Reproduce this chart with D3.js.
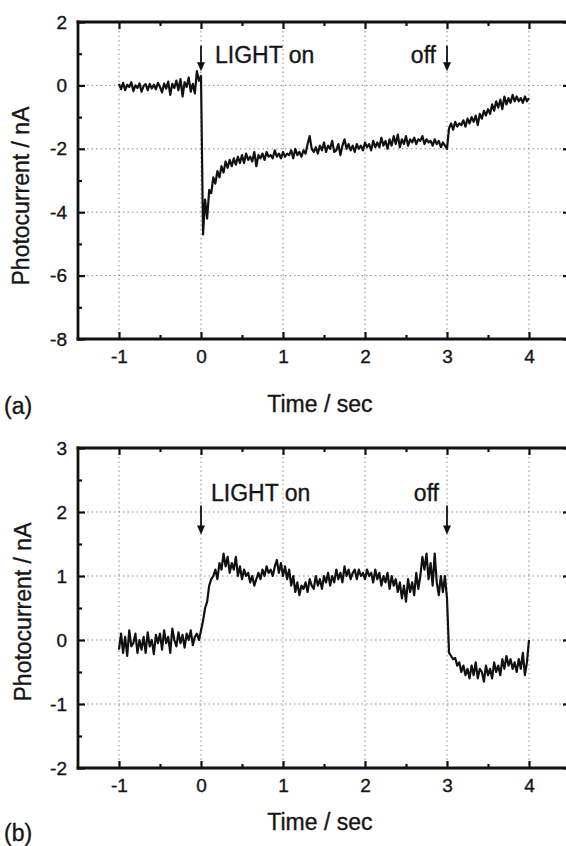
<!DOCTYPE html>
<html>
<head>
<meta charset="utf-8">
<script src="https://cdn.jsdelivr.net/npm/d3@7"></script>
<style>
  body { margin: 0; background: #fff; }
  text { font-family: "Liberation Sans", Arial, sans-serif; fill: #151515; }
</style>
</head>
<body>
<svg id="chart" width="566" height="846"></svg>
<script>
// sampling: t = -1 .. 4 sec, every 0.025 s
const tStart = -1, tStep = 0.025;

// panel (a) photocurrent, nA
const currentA = [
  0.05, -0.12, 0.08, -0.15, 0.02, -0.05, 0.10, -0.18, 0.00, -0.08,
  0.06, -0.20, -0.02, 0.04, -0.15, 0.05, -0.10, 0.02, -0.12, 0.08,
  -0.05, -0.22, 0.06, -0.10, 0.12, -0.30, 0.05, -0.08, 0.15, -0.15,
  0.20, -0.35, 0.10, -0.05, 0.25, -0.20, 0.05, -0.25, 0.45, 0.15,
  0.30,
  -4.7, -3.6, -4.2, -3.3, -3.4, -2.9, -3.1, -2.7, -2.9, -2.55,
  -2.75, -2.4, -2.6, -2.35, -2.55, -2.3, -2.5, -2.25, -2.45, -2.2,
  -2.45, -2.15, -2.35, -2.25, -2.4, -2.1, -2.55, -2.2, -2.3, -2.15,
  -2.35, -2.1, -2.25, -2.2, -2.3, -2.05, -2.25, -2.15, -2.3, -2.1,
  -2.25, -2.15, -2.2, -2.05, -2.3, -2.0, -2.2, -2.1, -2.25, -2.05,
  -2.15, -1.85, -1.6, -2.0, -2.1, -1.95, -2.15, -1.9, -2.05, -1.8,
  -2.1, -1.9, -2.0, -1.75, -2.1, -2.05, -1.85, -2.2, -1.9, -1.7,
  -2.0, -1.85, -2.05, -1.9, -2.1, -1.85, -2.0, -1.9, -2.05, -1.8,
  -1.95, -1.85, -2.05, -1.75, -1.95, -1.8, -1.95, -1.65, -1.9, -1.75,
  -2.0, -1.7, -1.9, -1.6, -1.85, -1.55, -1.95, -1.7, -1.85, -1.6,
  -1.9, -1.7, -1.8, -1.65, -1.85, -1.7, -1.75, -1.6, -1.85, -1.7,
  -1.8, -1.75, -1.9, -1.7, -1.85, -1.75, -1.95, -1.8, -1.9, -2.0,
  -1.35, -1.2, -1.4, -1.15, -1.3, -1.2, -1.25, -1.1, -1.3, -1.05,
  -1.2, -1.0, -1.15, -0.95, -1.25, -0.9, -1.05, -0.8, -0.95, -0.75,
  -0.9, -0.6, -0.8, -0.5, -0.7, -0.45, -0.75, -0.35, -0.6, -0.4,
  -0.55, -0.3, -0.5, -0.35, -0.5, -0.4, -0.55, -0.35, -0.5, -0.4
];

// panel (b) photocurrent, nA
const currentB = [
  -0.15, 0.1, -0.2, 0.05, -0.25, 0.15, -0.1, -0.05, 0.1, -0.2,
  0.0, -0.15, 0.05, -0.2, 0.12, -0.1, 0.0, -0.22, 0.08, -0.05,
  0.1, -0.15, 0.15, -0.05, 0.05, -0.2, 0.18, 0.0, -0.1, 0.12,
  -0.05, 0.08, -0.12, 0.1, 0.0, 0.15, -0.08, 0.05, 0.1, 0.0,
  0.15,
  0.3, 0.5, 0.6, 0.85, 0.95, 1.0, 1.1, 0.95, 1.2, 1.1,
  1.35, 1.15, 1.3, 1.05, 1.2, 1.1, 1.3, 1.0, 1.15, 0.95,
  1.1, 1.0, 1.05, 0.9, 1.0, 0.85, 0.95, 1.05, 0.95, 1.1,
  1.0, 1.15, 1.05, 1.1, 1.0, 1.15, 1.25, 1.05, 1.2, 1.0,
  1.15, 0.95, 1.1, 0.85, 1.0, 0.75, 0.9, 0.7, 0.85, 0.8,
  0.9, 0.75, 0.95, 0.85, 0.8, 1.0, 0.85, 0.95, 0.8, 1.0,
  0.9, 1.05, 0.85, 1.0, 0.9, 1.1, 0.95, 1.05, 0.9, 1.15,
  1.0, 1.1, 0.95, 1.05, 1.1, 0.95, 1.1, 1.0, 1.05, 0.95,
  1.1, 1.0, 1.05, 0.9, 1.1, 0.95, 1.05, 0.85, 1.0, 0.9,
  1.05, 0.8, 1.0, 0.85, 0.95, 0.75, 0.9, 0.65, 0.85, 0.6,
  0.95, 0.75, 0.9, 0.7, 1.05, 0.8, 1.0, 1.3, 1.1, 1.35,
  0.95, 1.2, 0.85, 1.35, 0.9, 0.7, 1.0, 0.75, 1.0, 0.65,
  -0.2, -0.25, -0.3, -0.28, -0.4, -0.35, -0.5, -0.4, -0.55, -0.45,
  -0.6, -0.4, -0.55, -0.35, -0.6, -0.45, -0.5, -0.65, -0.4, -0.55,
  -0.45, -0.6, -0.35, -0.5, -0.4, -0.55, -0.3, -0.45, -0.25, -0.4,
  -0.3, -0.45, -0.35, -0.5, -0.3, -0.45, -0.2, -0.55, -0.35, 0.0
];

const xDomain = [-1.5, 4.5];
const xTicks = [-1, 0, 1, 2, 3, 4];
const xMinor = [-0.5, 0.5, 1.5, 2.5, 3.5];

const yDomainA = [-8, 2];
const yTicksA = [2, 0, -2, -4, -6, -8];
const yMinorA = [1, -1, -3, -5, -7];

const yDomainB = [-2, 3];
const yTicksB = [3, 2, 1, 0, -1, -2];
const yMinorB = [2.5, 1.5, 0.5, -0.5, -1.5];

const marksA = [{ t: 0, label: "LIGHT on", side: "right" }, { t: 3, label: "off", side: "left" }];
const marksB = [{ t: 0, label: "LIGHT on", side: "above" }, { t: 3, label: "off", side: "aboveLeft" }];

const svg = d3.select("#chart");
const ink = "#111";

function panel(opt) {
  const x = d3.scaleLinear().domain(xDomain).range([opt.left, opt.right]);
  const y = d3.scaleLinear().domain(opt.yDomain).range([opt.bottom, opt.top]);
  const g = svg.append("g");

  // dotted grid
  g.selectAll("line.gx").data(xTicks).join("line").attr("class", "gx")
    .attr("x1", d => x(d)).attr("x2", d => x(d))
    .attr("y1", opt.top).attr("y2", opt.bottom)
    .attr("stroke", "#8a8a8a").attr("stroke-width", 1).attr("stroke-dasharray", "1.5,3");
  g.selectAll("line.gy").data(opt.yTicks).join("line").attr("class", "gy")
    .attr("x1", opt.left).attr("x2", opt.right)
    .attr("y1", d => y(d)).attr("y2", d => y(d))
    .attr("stroke", "#8a8a8a").attr("stroke-width", 1).attr("stroke-dasharray", "1.5,3");

  // axes, ticks pointing inward
  const ax = (gen, tr, vals, size, labels) => {
    const a = g.append("g").attr("transform", tr)
      .call(gen.tickValues(vals).tickSize(size).tickPadding(labels ? 11 : 0)
        .tickFormat(labels ? d => (d < 0 ? "-" + Math.abs(d) : d) : ""));
    a.select(".domain").remove();
    a.selectAll(".tick line").style("stroke", ink).style("stroke-width", "2.2px");
    a.selectAll(".tick text").style("font-size", "19px")
      .style("font-family", "'Liberation Sans', Arial, sans-serif")
      .style("fill", "#151515").style("stroke", "#151515").style("stroke-width", "0.35px");
    return a;
  };
  ax(d3.axisBottom(x), `translate(0,${opt.bottom})`, xTicks, -7, true);
  ax(d3.axisBottom(x), `translate(0,${opt.bottom})`, xMinor, -4, false);
  ax(d3.axisTop(x), `translate(0,${opt.top})`, xTicks, -7, false);
  ax(d3.axisTop(x), `translate(0,${opt.top})`, xMinor, -4, false);
  ax(d3.axisLeft(y), `translate(${opt.left},0)`, opt.yTicks, -7, true);
  ax(d3.axisLeft(y), `translate(${opt.left},0)`, opt.yMinor, -4, false);
  ax(d3.axisRight(y), `translate(${opt.right},0)`, opt.yTicks, -7, false);
  ax(d3.axisRight(y), `translate(${opt.right},0)`, opt.yMinor, -4, false);

  // frame
  const edges = [
    [opt.left, opt.top, opt.right, opt.top],
    [opt.left, opt.bottom, opt.right, opt.bottom],
    [opt.left, opt.top, opt.left, opt.bottom],
    [opt.right, opt.top, opt.right, opt.bottom]
  ];
  g.selectAll("line.frame").data(edges).join("line").attr("class", "frame")
    .attr("x1", d => d[0]).attr("y1", d => d[1]).attr("x2", d => d[2]).attr("y2", d => d[3])
    .style("stroke", ink).style("stroke-width", "2.8px").style("stroke-linecap", "square");

  // trace
  const line = d3.line().x((d, i) => x(tStart + i * tStep)).y(d => y(d));
  g.append("path").datum(opt.values)
    .attr("d", line)
    .style("fill", "none").style("stroke", ink).style("stroke-width", "2.2px").style("stroke-linejoin", "round");

  // arrows + labels
  opt.marks.forEach(m => {
    const ax0 = x(m.t);
    const y1 = y(opt.arrowFrom), y2 = y(opt.arrowTo);
    g.append("line").attr("x1", ax0).attr("x2", ax0).attr("y1", y1).attr("y2", y2 - 5)
      .style("stroke", ink).style("stroke-width", "1.8px");
    g.append("path")
      .attr("d", `M${ax0 - 4},${y2 - 9} L${ax0 + 4},${y2 - 9} L${ax0},${y2} Z`)
      .style("fill", ink);
    const t = g.append("text").text(m.label).attr("font-size", 23)
      .attr("dominant-baseline", "middle")
      .style("stroke", "#151515").style("stroke-width", "0.35px");
    if (m.side === "right") t.attr("x", ax0 + 14).attr("y", y(opt.labelAt));
    else if (m.side === "left") t.attr("x", ax0 - 11).attr("y", y(opt.labelAt)).attr("text-anchor", "end");
    else if (m.side === "above") t.attr("x", ax0 + 10).attr("y", y(opt.labelAt));
    else t.attr("x", ax0 - 8).attr("y", y(opt.labelAt)).attr("text-anchor", "end");
  });

  // titles
  svg.append("text").text("Time / sec")
    .attr("x", x(1.45)).attr("y", opt.xTitleY).attr("text-anchor", "middle").attr("font-size", 23)
    .style("stroke", "#151515").style("stroke-width", "0.35px");
  svg.append("text").text("Photocurrent / nA")
    .attr("transform", `translate(${opt.yTitleX},${opt.yTitleMid}) rotate(-90)`)
    .attr("text-anchor", "middle").attr("dominant-baseline", "middle").attr("font-size", 23)
    .style("stroke", "#151515").style("stroke-width", "0.35px");
  svg.append("text").text(opt.tag)
    .attr("x", 4).attr("y", opt.tagY).attr("font-size", 23)
    .style("stroke", "#151515").style("stroke-width", "0.35px");
}

panel({
  values: currentA, yDomain: yDomainA, yTicks: yTicksA, yMinor: yMinorA, marks: marksA,
  left: 78, right: 570, top: 22, bottom: 339,
  arrowFrom: 1.25, arrowTo: 0.45, labelAt: 0.9,
  xTitleY: 412, yTitleX: 23, yTitleMid: 196, tag: "(a)", tagY: 414
});

panel({
  values: currentB, yDomain: yDomainB, yTicks: yTicksB, yMinor: yMinorB, marks: marksB,
  left: 78, right: 570, top: 448, bottom: 768,
  arrowFrom: 2.1, arrowTo: 1.65, labelAt: 2.27,
  xTitleY: 830, yTitleX: 25, yTitleMid: 612, tag: "(b)", tagY: 841
});
</script>
</body>
</html>
